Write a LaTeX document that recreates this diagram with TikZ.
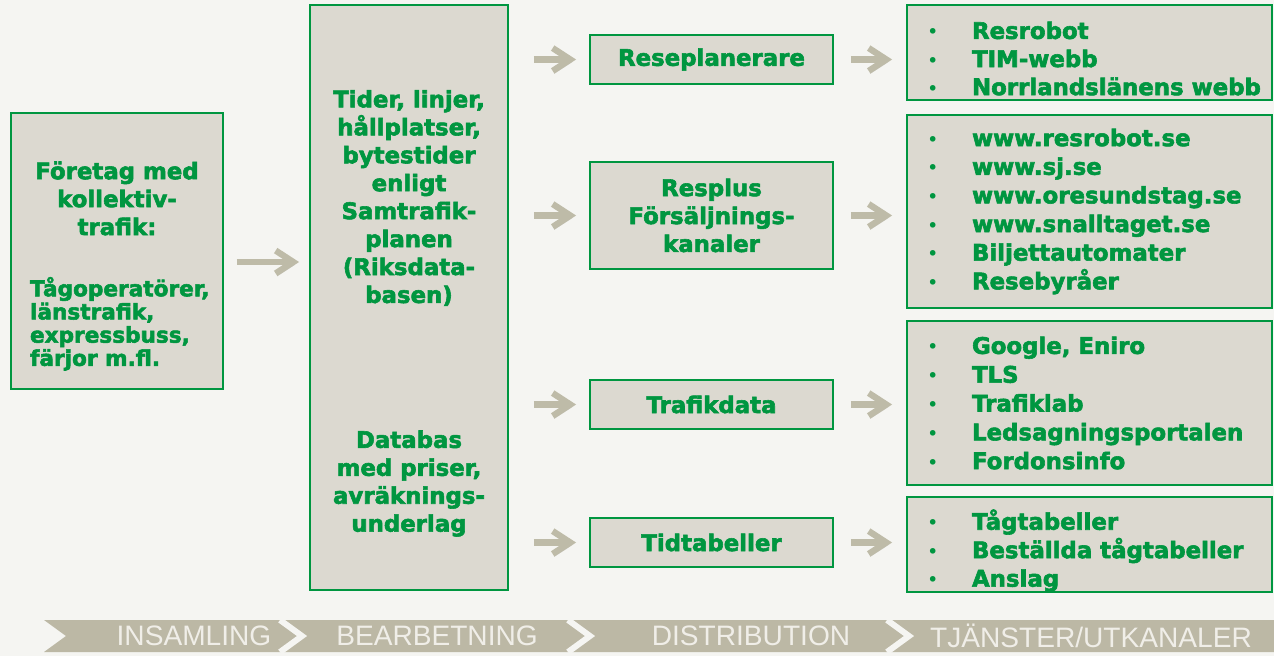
\documentclass[tikz,border=0pt]{standalone}
\usepackage{fontspec}
\setmainfont{DejaVu Sans}[BoldFeatures={FakeBold=2.5}]
\newfontfamily\bandfont{Liberation Sans}
\usetikzlibrary{arrows.meta}

\newcommand{\punkt}{\makebox[0.9cm][l]{\normalfont\fontsize{11}{11}\selectfont\textbullet}}

\begin{document}
\begin{tikzpicture}[x=0.02cm, y=-0.02cm]
            \definecolor{sjgreen}{RGB}{0,150,64}
            \definecolor{boxgray}{RGB}{220,217,208}
            \definecolor{arrowgray}{RGB}{190,187,168}
            \definecolor{bandgray}{RGB}{188,184,165}
            \definecolor{bandtext}{RGB}{240,238,232}
            \definecolor{bgwhite}{RGB}{245,245,242}
            \tikzstyle{ruta} = [rectangle, draw=sjgreen, line width=1.1pt,
            fill=boxgray, text=sjgreen, inner sep=0pt,
            font=\bfseries\fontsize{13}{15.9}\selectfont]
            \tikzstyle{kanal} = [ruta, minimum width=4.86cm, minimum height=0.98cm, align=center]
            \tikzstyle{lista} = [ruta, minimum width=7.3cm]
            \tikzstyle{arrow} = [line width=3.6pt, arrowgray,
            -{Straight Barb[length=10pt,width=13pt]},
            preaction={draw=black, opacity=0.12, transform canvas={shift={(0.8pt,-1.5pt)}}}]
            \tikzstyle{fas} = [text=bandtext, font=\bandfont\fontsize{16}{18}\selectfont]

            \fill[bgwhite] (0,0) rectangle (1274,656);
            \useasboundingbox (0,0) rectangle (1274,656);

            % insamling
            \node (lbox)[ruta, minimum width=4.24cm, minimum height=5.52cm] at (117,251)
            {\parbox[t][5.52cm][t]{3.48cm}{\vspace*{0.97cm}\centering Företag med\\kollektiv-\\trafik:\par
            \vspace{0.76cm}\raggedright\fontsize{12.3}{13.2}\selectfont Tågoperatörer,\\länstrafik,\\expressbuss,\\färjor m.fl.\par}};

            % bearbetning
            \node (mid)[ruta, minimum width=3.96cm, minimum height=11.7cm] at (409,297.5)
            {\parbox[t][11.7cm][t]{3.96cm}{\vspace*{1.7cm}\centering Tider, linjer,\\hållplatser,\\bytestider\\enligt\\Samtrafik-\\planen\\(Riksdata-\\basen)\\[2.34cm]
            Databas\\med priser,\\avräknings-\\underlag\par}};

            % distribution
            \node (res)[kanal] at (711.5,59.5) {Reseplanerare};
            \node (plus)[kanal, minimum height=2.14cm] at (711.5,215.5) {Resplus\\Försäljnings-\\kanaler};
            \node (tdata)[kanal] at (711.5,404.5) {Trafikdata};
            \node (tidt)[kanal] at (711.5,542.5) {Tidtabeller};

            % tjänster/utkanaler
            \node (rb1)[lista, minimum height=1.9cm] at (1089.5,52.5)
            {\parbox{6.5cm}{\vspace*{0.24cm}\fontsize{13}{16}\selectfont\punkt Resrobot\\\punkt TIM-webb\\\mbox{\punkt Norrlandslänens webb}}};
            \node (rb2)[lista, minimum height=3.86cm] at (1089.5,211.5)
            {\parbox{6.5cm}{\fontsize{13}{16.3}\selectfont\punkt www.resrobot.se\\\punkt www.sj.se\\\punkt www.oresundstag.se\\\punkt www.snalltaget.se\\\punkt Biljettautomater\\\punkt Resebyråer}};
            \node (rb3)[lista, minimum height=3.28cm] at (1089.5,403)
            {\parbox{6.5cm}{\fontsize{13}{16.4}\selectfont\punkt Google, Eniro\\\punkt TLS\\\punkt Trafiklab\\\punkt Ledsagningsportalen\\\punkt Fordonsinfo}};
            \node (rb4)[lista, minimum height=1.9cm] at (1089.5,544.5)
            {\parbox{6.5cm}{\vspace*{0.24cm}\fontsize{13}{16.2}\selectfont\punkt Tågtabeller\\\punkt Beställda tågtabeller\\\punkt Anslag}};

            \draw [arrow, shorten <=0.26cm, shorten >=0.2cm] ([yshift=-0.22cm]lbox.east) -- ([yshift=-0.22cm]lbox.east -| mid.west);
            \draw [arrow, shorten <=0.5cm, shorten >=0.26cm] (mid.east |- res.west) -- (res.west);
            \draw [arrow, shorten <=0.5cm, shorten >=0.26cm] (mid.east |- plus.west) -- (plus.west);
            \draw [arrow, shorten <=0.5cm, shorten >=0.26cm] (mid.east |- tdata.west) -- (tdata.west);
            \draw [arrow, shorten <=0.5cm, shorten >=0.26cm] (mid.east |- tidt.west) -- (tidt.west);
            \draw [arrow, shorten <=0.34cm, shorten >=0.28cm] (res.east) -- (res.east -| rb1.west);
            \draw [arrow, shorten <=0.34cm, shorten >=0.28cm] (plus.east) -- (plus.east -| rb2.west);
            \draw [arrow, shorten <=0.34cm, shorten >=0.28cm] (tdata.east) -- (tdata.east -| rb3.west);
            \draw [arrow, shorten <=0.34cm, shorten >=0.28cm] (tidt.east) -- (tidt.east -| rb4.west);

            % faser
            \fill[bandgray] (44,620) -- (1274,620) -- (1274,652) -- (44,652) -- (66,636) -- cycle;
            \draw[bgwhite, line width=3.4pt] (280,620) -- (302,636) -- (280,652);
            \draw[bgwhite, line width=3.4pt] (568,620) -- (590,636) -- (568,652);
            \draw[bgwhite, line width=3.4pt] (887,620) -- (909,636) -- (887,652);
            \node (fas1)[fas] at (194,636) {INSAMLING};
            \node (fas2)[fas] at (437,636) {BEARBETNING};
            \node (fas3)[fas] at (751,636) {DISTRIBUTION};
            \node (fas4)[fas] at (1091,636) {TJÄNSTER/UTKANALER};
        \end{tikzpicture}
\end{document}
